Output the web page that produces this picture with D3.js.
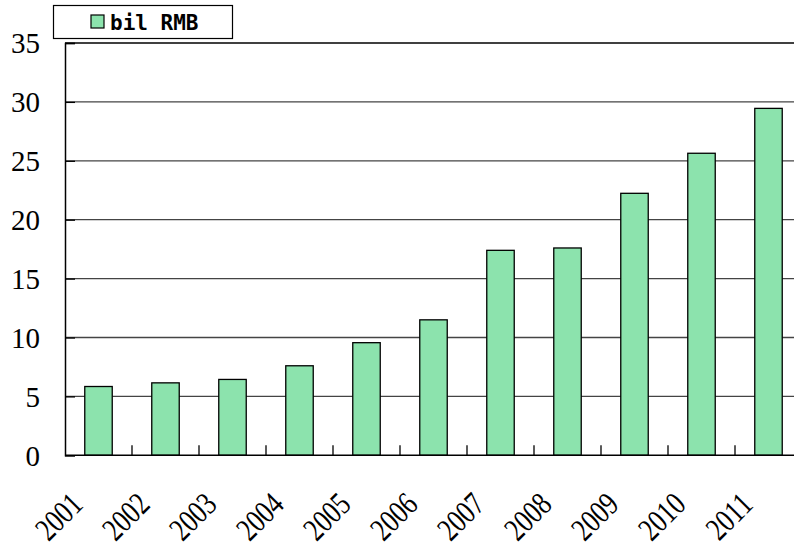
<!DOCTYPE html>
<html><head><meta charset="utf-8">
<script src="https://cdn.jsdelivr.net/npm/d3@7"></script>
<style>body{margin:0;background:#fff;overflow:hidden}</style>
</head><body>
<svg id="c" width="794" height="549"></svg>
<script>
const categories = ["2001","2002","2003","2004","2005","2006","2007","2008","2009","2010","2011"];
const values = [5.84, 6.15, 6.44, 7.6, 9.56, 11.5, 17.4, 17.6, 22.24, 25.64, 29.45];
const yTicks = [0,5,10,15,20,25,30,35];
const seriesName = "bil RMB";

const svg = d3.select("#c");
const m = {left:65, top:43, right:802, bottom:455.3};
const x = d3.scaleBand().domain(categories).range([m.left, m.right]).paddingInner(0.59).paddingOuter(0.295);
const xb = d3.scaleBand().domain(categories).range([m.left, m.right]);
const y = d3.scaleLinear().domain([0,35]).range([m.bottom, m.top]);

// gridlines
svg.append("g").selectAll("line").data(yTicks.filter(d=>d>0)).join("line")
  .attr("x1", m.left).attr("x2", m.right)
  .attr("y1", d=>y(d)).attr("y2", d=>y(d))
  .attr("stroke", d=> d===35 ? "#000" : "#444").attr("stroke-width", 1.3);

// bars
svg.append("g").selectAll("rect").data(values).join("rect")
  .attr("x", (d,i)=>x(categories[i]))
  .attr("width", x.bandwidth())
  .attr("y", d=>y(d))
  .attr("height", d=>y(0)-y(d))
  .attr("fill", "#8ce3ad").attr("stroke", "#000").attr("stroke-width", 1.3);

// y axis
const ya = d3.axisLeft(y).tickValues(yTicks).tickSize(-10).tickPadding(25);
const gy = svg.append("g").attr("transform", `translate(${m.left},0)`).call(ya);
gy.select(".domain").attr("stroke","#000").attr("stroke-width",1.5);
gy.selectAll(".tick line").attr("stroke","#000").attr("stroke-width",1.3);
gy.selectAll("text").attr("font-family","'Liberation Serif', 'DejaVu Serif', serif")
  .attr("font-size", 29).attr("fill","#000").attr("dy", "0.34em");

// x axis with tick marks at category boundaries
const gx = svg.append("g").attr("transform", `translate(0,${m.bottom})`);
gx.append("line").attr("x1", m.left).attr("x2", m.right).attr("y1",0).attr("y2",0)
  .attr("stroke","#000").attr("stroke-width",1.5);
gx.selectAll("line.t").data(categories).join("line").attr("class","t")
  .attr("x1", d=>xb(d)+xb.bandwidth()).attr("x2", d=>xb(d)+xb.bandwidth())
  .attr("y1", 0).attr("y2", -10).attr("stroke","#000").attr("stroke-width",1.3);
gx.selectAll("text").data(categories).join("text")
  .attr("transform", d=>`translate(${xb(d)+xb.bandwidth()/2-14},${51}) rotate(-45) scale(0.88,1.12)`)
  .attr("text-anchor","end")
  .attr("font-family","'Liberation Serif', 'DejaVu Serif', serif")
  .attr("font-size", 29).attr("fill","#000").text(d=>d);

// legend
const lg = svg.append("g");
lg.append("rect").attr("x",53.5).attr("y",5.5).attr("width",179).attr("height",33)
  .attr("fill","#fff").attr("stroke","#000").attr("stroke-width",1.2);
lg.append("rect").attr("x",91).attr("y",15).attr("width",13).attr("height",13)
  .attr("fill","#8ce3ad").attr("stroke","#000").attr("stroke-width",1.2);
lg.append("text").attr("x",110).attr("y",30)
  .attr("font-family","'DejaVu Sans Mono', monospace")
  .attr("font-weight","bold").attr("font-size",21).attr("fill","#000").text(seriesName);
</script>
</body></html>
